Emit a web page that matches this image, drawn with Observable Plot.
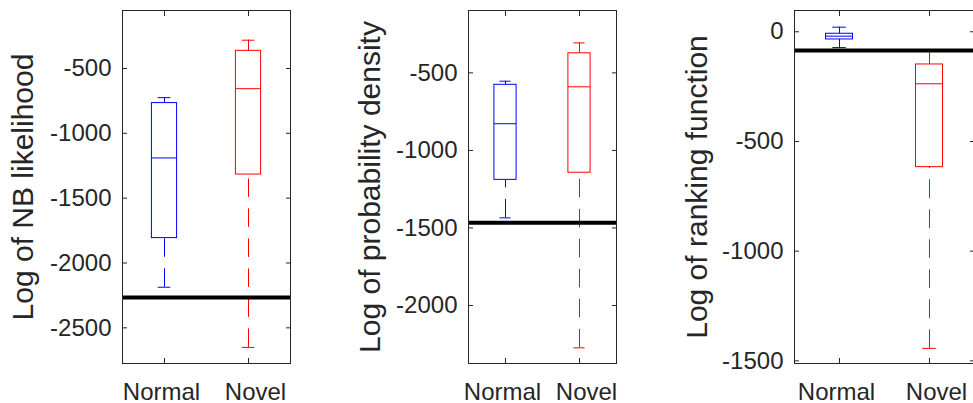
<!DOCTYPE html>
<html>
<head>
<meta charset="utf-8">
<script src="https://cdn.jsdelivr.net/npm/d3@7"></script>
<script src="https://cdn.jsdelivr.net/npm/@observablehq/plot@0.6"></script>
<style>
  html, body { margin: 0; padding: 0; background: #ffffff; }
  #chart { position: relative; width: 973px; height: 403px; overflow: hidden; background: #ffffff; }
  #chart > svg { position: absolute; top: 0; }
</style>
</head>
<body>
<div id="chart"></div>
<script>
// ---- data ----
const groups = ["Normal", "Novel"];
const groupColors = ["#0000ff", "#ff0000"];

// Panel 1: Log of NB likelihood
const nbTitle = "Log of NB likelihood";
const nbLow  = [-2187, -2651];
const nbQ1   = [-1808, -1318];
const nbMed  = [-1190, -656];
const nbQ3   = [-767, -364];
const nbHigh = [-725, -282];
const nbThreshold = -2267;
const nbTicks = [-500, -1000, -1500, -2000, -2500];
const nbDomain = [-2775, -53];

// Panel 2: Log of probability density
const pdTitle = "Log of probability density";
const pdLow  = [-1435, -2273];
const pdQ1   = [-1190, -1144];
const pdMed  = [-828, -590];
const pdQ3   = [-577, -374];
const pdHigh = [-554, -307];
const pdThreshold = -1467;
const pdTicks = [-500, -1000, -1500, -2000];
const pdDomain = [-2374, -98];

// Panel 3: Log of ranking function
const rfTitle = "Log of ranking function";
const rfLow  = [-72, -1443];
const rfQ1   = [-35, -617];
const rfMed  = [-20, -237];
const rfQ3   = [-9, -149];
const rfHigh = [21, -84];
const rfThreshold = -85;
const rfTicks = [0, -500, -1000, -1500];
const rfDomain = [-1512, 97];

// ---- drawing ----
const ink = "#262626";
const boxHalf = 0.15, capHalf = 0.075;
const labelShift = [-3, 7];
const fmt = d => (d < 0 ? "-" + Math.abs(d) : String(d));

function rows(low, q1, med, q3, high) {
  return groups.map((g, i) => ({pos: i + 1, group: g, low: low[i], q1: q1[i], med: med[i], q3: q3[i], high: high[i], color: groupColors[i]}));
}

function panel({left, width, marginLeft, marginRight, titleDx, title, data, threshold, ticks, domain}) {
  const stroke = d => d.color;
  const svg = Plot.plot({
    width, height: 403,
    marginLeft, marginRight, marginTop: 10, marginBottom: 40,
    style: {fontFamily: "'Liberation Sans', Arial, sans-serif", background: "transparent", overflow: "visible", color: ink},
    x: {type: "linear", domain: [0.5, 2.5]},
    y: {type: "linear", domain},
    color: {type: "identity"},
    marks: [
      // whiskers (dashed), drawn from whisker end toward the box
      Plot.ruleX(data, {x: "pos", y1: "low", y2: "q1", stroke, strokeWidth: 1, strokeDasharray: "18.5,11.5"}),
      Plot.ruleX(data, {x: "pos", y1: "high", y2: "q3", stroke, strokeWidth: 1, strokeDasharray: "18.5,11.5"}),
      // whisker caps
      Plot.ruleY(data, {y: "low", x1: d => d.pos - capHalf, x2: d => d.pos + capHalf, stroke, strokeWidth: 1}),
      Plot.ruleY(data, {y: "high", x1: d => d.pos - capHalf, x2: d => d.pos + capHalf, stroke, strokeWidth: 1}),
      // boxes
      Plot.rect(data, {x1: d => d.pos - boxHalf, x2: d => d.pos + boxHalf, y1: "q1", y2: "q3", fill: "none", stroke, strokeWidth: 1}),
      // medians
      Plot.ruleY(data, {y: "med", x1: d => d.pos - boxHalf, x2: d => d.pos + boxHalf, stroke, strokeWidth: 1}),
      // threshold
      Plot.ruleY([threshold], {stroke: "#000000", strokeWidth: 4}),
      // frame and axes
      Plot.frame({stroke: ink, strokeWidth: 1}),
      Plot.axisY(ticks, {anchor: "left", tickSize: -5, tickPadding: 16, fontSize: 24, tickFormat: fmt, label: null, color: ink}),
      Plot.axisY(ticks, {anchor: "right", tickSize: -5, fill: "none", label: null, stroke: ink}),
      Plot.axisX([1, 2], {anchor: "bottom", tickSize: -5, fill: "none", label: null, stroke: ink}),
      ...groups.map((g, i) => Plot.axisX([i + 1], {anchor: "bottom", tickSize: 0, tickPadding: 19, dx: labelShift[i], fontSize: 24, tickFormat: d => groups[d - 1], label: null, color: ink})),
      Plot.axisX([1, 2], {anchor: "top", tickSize: -5, fill: "none", label: null, stroke: ink}),
      Plot.text([title], {text: d => d, frameAnchor: "left", rotate: -90, dx: titleDx, textAnchor: "middle", lineAnchor: "top", fontSize: 30, fill: ink})
    ]
  });
  svg.style.left = left + "px";
  document.getElementById("chart").appendChild(svg);
}

panel({left: 0, width: 330, marginLeft: 122, marginRight: 40, titleDx: -111, title: nbTitle,
  data: rows(nbLow, nbQ1, nbMed, nbQ3, nbHigh), threshold: nbThreshold, ticks: nbTicks, domain: nbDomain});
panel({left: 330, width: 330, marginLeft: 138, marginRight: 44, titleDx: -110, title: pdTitle,
  data: rows(pdLow, pdQ1, pdMed, pdQ3, pdHigh), threshold: pdThreshold, ticks: pdTicks, domain: pdDomain});
panel({left: 660, width: 320, marginLeft: 134, marginRight: 6, titleDx: -109, title: rfTitle,
  data: rows(rfLow, rfQ1, rfMed, rfQ3, rfHigh), threshold: rfThreshold, ticks: rfTicks, domain: rfDomain});
</script>
</body>
</html>
